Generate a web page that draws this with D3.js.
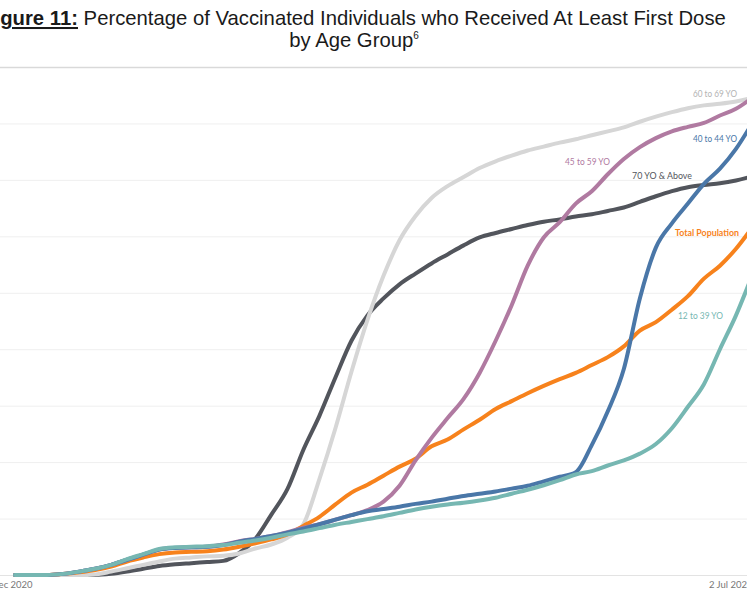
<!DOCTYPE html>
<html><head><meta charset="utf-8">
<script src="https://cdn.jsdelivr.net/npm/d3@7"></script>
<style>html,body{margin:0;padding:0;background:#fff;overflow:hidden}svg{display:block}</style>
</head><body>
<svg id="chart" width="747" height="598"></svg>
<script>
// ---- data (values in % of age group with at least first dose) ----
const dates = ["2020-12-30","2021-01-03","2021-01-07","2021-01-11","2021-01-15","2021-01-19","2021-01-23","2021-01-27","2021-01-31","2021-02-04","2021-02-08","2021-02-12","2021-02-16","2021-02-20","2021-02-24","2021-02-28","2021-03-04","2021-03-08","2021-03-12","2021-03-16","2021-03-20","2021-03-24","2021-03-28","2021-04-01","2021-04-05","2021-04-09","2021-04-13","2021-04-17","2021-04-21","2021-04-25","2021-04-29","2021-05-03","2021-05-07","2021-05-11","2021-05-15","2021-05-19","2021-05-23","2021-05-27","2021-05-31","2021-06-04","2021-06-08","2021-06-12","2021-06-16","2021-06-20","2021-06-24","2021-06-28","2021-07-02"];
const age70Plus = [0,0,0,0,0,0,0.2,0.6,1.1,1.6,1.9,2.1,2.3,2.5,3.9,6.4,10.7,15.2,22.2,28.2,35.0,41.5,46.0,49.0,51.5,53.4,55.2,56.8,58.4,59.8,60.6,61.3,62.0,62.6,63.0,63.5,63.9,64.5,65.1,66.1,67.1,68.0,68.7,69.1,69.4,69.9,70.6];
const age60to69 = [0,0,0,0,0,0.1,0.6,1.2,1.8,2.4,2.9,3.1,3.3,3.4,3.8,4.7,5.4,6.6,9.0,17.0,26.0,36.0,45.2,53.0,59.3,63.6,66.8,68.9,70.5,72.1,73.3,74.3,75.2,75.9,76.6,77.2,77.9,78.6,79.3,80.3,81.2,82.0,82.7,83.2,83.5,83.9,84.5];
const totalPop = [0,0,0,0.2,0.5,0.9,1.5,2.4,3.1,3.7,4.0,4.1,4.2,4.5,5.0,5.6,6.3,7.2,8.7,10.3,12.5,14.6,16.0,17.6,19.2,20.6,22.8,24.0,25.8,27.5,29.4,30.8,32.2,33.5,34.7,35.8,37.2,38.6,40.5,43.3,44.8,47.0,49.4,52.5,54.8,57.8,61.5];
const age45to59 = [0,0,0,0.2,0.6,1.1,1.8,2.7,3.6,4.5,4.8,4.9,5.0,5.4,6.0,6.4,6.9,7.6,8.4,9.0,9.8,10.6,11.5,13.0,15.8,20.3,24.3,27.8,31.2,35.8,41.5,47.8,54.8,59.8,62.5,65.8,68.0,71.0,73.7,75.8,77.4,78.6,79.4,80.1,81.4,82.6,84.5];
const age40to44 = [0,0,0,0.2,0.6,1.1,1.8,2.7,3.6,4.5,4.8,4.9,5.0,5.3,5.9,6.4,6.9,7.5,8.2,9.0,9.8,10.6,11.3,11.7,12.1,12.6,13.0,13.5,14.0,14.4,14.8,15.3,15.8,16.6,17.4,18.2,23.0,29.0,36.5,49.0,58.0,62.3,65.8,69.3,72.0,75.5,80.0];
const age12to39 = [0,0,0,0.2,0.6,1.1,1.8,2.8,3.7,4.6,4.9,5.0,5.1,5.3,5.7,6.1,6.6,7.2,7.7,8.3,8.9,9.4,9.9,10.4,11.0,11.6,12.1,12.5,12.8,13.2,13.7,14.4,15.1,15.9,16.8,17.8,18.4,19.4,20.3,21.5,23.2,26.0,29.8,33.8,40.0,46.0,53.0];
const seriesNames = ["70 YO & Above","60 to 69 YO","Total Population","45 to 59 YO","40 to 44 YO","12 to 39 YO"];
const seriesValues = [age70Plus, age60to69, totalPop, age45to59, age40to44, age12to39];
const yTicks = [0,10,20,30,40,50,60,70,80,90];
const xTickDates = ["2020-12-30","2021-07-02"];

// ---- styles ----
const colors = {"70 YO & Above":"#52555c","60 to 69 YO":"#d6d6d6","Total Population":"#f7821c",
  "45 to 59 YO":"#b07aa1","40 to 44 YO":"#4a77a8","12 to 39 YO":"#76b7b2"};

const W = 747, H = 598;
const svg = d3.select("#chart");
const parse = d3.timeParse("%Y-%m-%d");
const dts = dates.map(parse);

const x = d3.scaleTime().domain([parse(dates[0]), parse(dates[dates.length-1])]).range([15, 752]);
const y = d3.scaleLinear().domain([0, 90]).range([575, 67]);

// title
const titleFont = "'Liberation Sans', Arial, sans-serif";
const title = svg.append("text").attr("x", 354).attr("y", 25).attr("text-anchor","middle")
  .style("font-family", titleFont).style("font-size","20.3px").attr("fill","#1a1a1a");
title.append("tspan").attr("font-weight","bold").attr("text-decoration","underline").text("Figure 11:");
title.append("tspan").text(" Percentage of Vaccinated Individuals who Received At Least First Dose");
const t2 = svg.append("text").attr("x", 354).attr("y", 47).attr("text-anchor","middle")
  .style("font-family", titleFont).style("font-size","20.3px").attr("fill","#1a1a1a");
t2.append("tspan").text("by Age Group");
t2.append("tspan").attr("dy", -8).style("font-size","10px").text("6");

// gridlines via axis
const grid = svg.append("g").attr("class","grid")
  .call(d3.axisRight(y).tickValues(yTicks).tickSize(W).tickFormat(""));
grid.select(".domain").remove();
grid.selectAll(".tick line").attr("stroke", d => d === 90 ? "#d9d9d9" : (d === 0 ? "#e3e3e3" : "#efefef"))
  .attr("stroke-width", d => d === 90 ? 1.5 : 1);

// x axis labels
const xa = svg.append("g").attr("transform", `translate(0,${y(0)})`)
  .call(d3.axisBottom(x).tickValues(xTickDates.map(parse)).tickSize(0).tickPadding(6)
    .tickFormat(d3.timeFormat("%-d %b %Y")));
xa.select(".domain").remove();
xa.selectAll("text").style("font-family","Lato, 'Open Sans', sans-serif").style("font-size","9.5px").attr("fill","#777")
  .attr("text-anchor", (d,i) => i === 0 ? "start" : "end")
  .attr("dx", (d,i) => i === 0 ? -37.5 : 0);

// lines
const line = d3.line().x((d,i) => x(dts[i])).y(d => y(d)).curve(d3.curveMonotoneX);
svg.append("g").selectAll("path").data(seriesNames).join("path")
  .attr("d", (n,i) => line(seriesValues[i]))
  .attr("fill","none").attr("stroke", n => colors[n]).attr("stroke-width", 4)
  .attr("stroke-linejoin","round").attr("stroke-linecap","round");

// labels (annotation text)
const labels = [
  {name:"60 to 69 YO", x:737, y:97, w:44, fill:"#b3b3b3", bold:false},
  {name:"40 to 44 YO", x:737, y:142, w:44, fill:"#4a77a8", bold:false},
  {name:"45 to 59 YO", x:610, y:165, w:45, fill:"#b07aa1", bold:false},
  {name:"70 YO & Above", x:692, y:179, w:60, fill:"#52555c", bold:false},
  {name:"Total Population", x:739, y:236, w:64, fill:"#f7821c", bold:true},
  {name:"12 to 39 YO", x:723, y:319, w:45, fill:"#76b7b2", bold:false}
];
svg.append("g").selectAll("text").data(labels).join("text")
  .attr("x", d => d.x).attr("y", d => d.y).attr("text-anchor","end")
  .attr("textLength", d => d.w).attr("lengthAdjust","spacingAndGlyphs")
  .style("font-family","Lato, 'Open Sans', sans-serif").style("font-size","8.5px")
  .attr("font-weight", d => d.bold ? "bold" : "normal")
  .attr("fill", d => d.fill).text(d => d.name);
</script>
</body></html>
